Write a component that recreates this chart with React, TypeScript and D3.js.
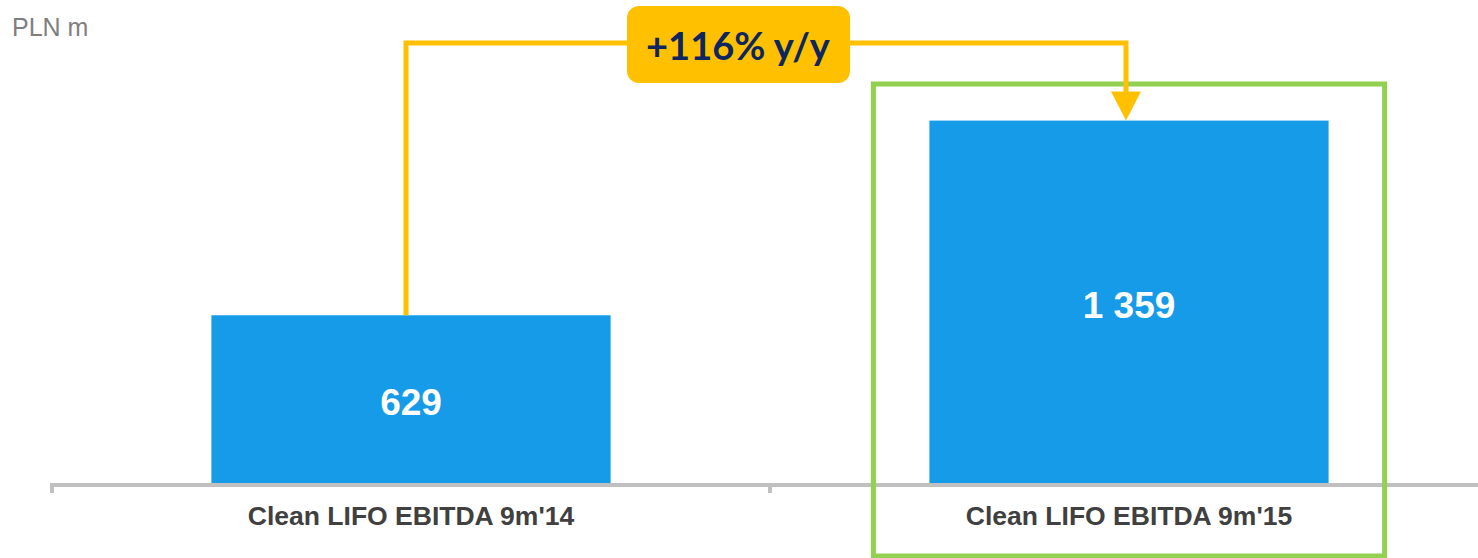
import { useEffect, useRef } from 'react';
import * as d3 from 'd3';

const categories = ["Clean LIFO EBITDA 9m'14", "Clean LIFO EBITDA 9m'15"];
const values = [629, 1359];
const valueLabels = ['629', '1 359'];
const unitLabel = 'PLN m';
const changeLabel = '+116% y/y';

export default function App() {
  const svgRef = useRef<SVGSVGElement>(null);

  useEffect(() => {
    if (!svgRef.current) return;
    const svg = d3.select(svgRef.current);
    svg.selectAll('*').remove();

    const width = 1478;
    const baseline = 483;

    // band runs past the right edge, like the original slide
    const xScale = d3.scaleBand<string>()
      .domain(categories)
      .range([52, 1488])
      .paddingInner(0.444)
      .paddingOuter(0.222);

    const yScale = d3.scaleLinear()
      .domain([0, 1500])
      .range([baseline, 83]);

    // unit label
    svg.append('text')
      .attr('x', 12)
      .attr('y', 36)
      .attr('font-family', 'Liberation Sans, Arial, sans-serif')
      .attr('font-size', 25)
      .attr('fill', '#7f7f7f')
      .text(unitLabel);

    // bars
    svg.selectAll('.bar')
      .data(values)
      .enter()
      .append('rect')
      .attr('class', 'bar')
      .attr('x', (_, i) => xScale(categories[i])!)
      .attr('y', d => yScale(d))
      .attr('width', xScale.bandwidth())
      .attr('height', d => baseline - yScale(d))
      .attr('fill', '#169be9');

    // value labels
    svg.selectAll('.val')
      .data(values)
      .enter()
      .append('text')
      .attr('class', 'val')
      .attr('x', (_, i) => xScale(categories[i])! + xScale.bandwidth() / 2)
      .attr('y', d => (yScale(d) + baseline) / 2 + 16)
      .attr('text-anchor', 'middle')
      .attr('font-family', 'Liberation Sans, Arial, sans-serif')
      .attr('font-weight', 'bold')
      .attr('font-size', 37)
      .attr('fill', '#ffffff')
      .text((_, i) => valueLabels[i]);

    // axis line + ticks
    const step = xScale.step();
    const x0 = 52;
    svg.append('line')
      .attr('x1', x0)
      .attr('x2', width)
      .attr('y1', baseline + 2)
      .attr('y2', baseline + 2)
      .attr('stroke', '#c0c0c0')
      .attr('stroke-width', 4);
    [0, 1, 2].forEach(i => {
      svg.append('line')
        .attr('x1', x0 + i * step)
        .attr('x2', x0 + i * step)
        .attr('y1', baseline)
        .attr('y2', baseline + 10)
        .attr('stroke', '#c0c0c0')
        .attr('stroke-width', 4);
    });

    // category labels
    svg.selectAll('.cat')
      .data(categories)
      .enter()
      .append('text')
      .attr('class', 'cat')
      .attr('x', d => xScale(d)! + xScale.bandwidth() / 2)
      .attr('y', 525)
      .attr('text-anchor', 'middle')
      .attr('font-family', 'Liberation Sans, Arial, sans-serif')
      .attr('font-weight', 'bold')
      .attr('font-size', 26.5)
      .attr('fill', '#404040')
      .text(d => d);

    // highlight box around current period
    const hx = xScale(categories[1])!;
    svg.append('rect')
      .attr('x', hx - 56)
      .attr('y', yScale(1500) + 1)
      .attr('width', xScale.bandwidth() + 112)
      .attr('height', 472)
      .attr('fill', 'none')
      .attr('stroke', '#92d050')
      .attr('stroke-width', 5);

    // connector arrow
    const ax1 = xScale(categories[0])! + xScale.bandwidth() / 2 - 5;
    const ax2 = xScale(categories[1])! + xScale.bandwidth() / 2 - 3;
    const topY = 43;
    const tipY = yScale(values[1]);
    svg.append('path')
      .attr('d', `M${ax1},${yScale(values[0])} V${topY} H${ax2} V${tipY - 26}`)
      .attr('fill', 'none')
      .attr('stroke', '#ffc000')
      .attr('stroke-width', 5);
    svg.append('path')
      .attr('d', `M${ax2 - 15},${tipY - 29} L${ax2 + 15},${tipY - 29} L${ax2},${tipY} Z`)
      .attr('fill', '#ffc000');

    // change badge
    svg.append('rect')
      .attr('x', 627)
      .attr('y', 6)
      .attr('width', 223)
      .attr('height', 77)
      .attr('rx', 12)
      .attr('fill', '#ffc000');
    svg.append('text')
      .attr('x', 738)
      .attr('y', 60)
      .attr('text-anchor', 'middle')
      .attr('font-family', 'Lato, Open Sans, sans-serif')
      .attr('font-weight', 'bold')
      .attr('font-size', 38)
      .attr('fill', '#0d2660')
      .text(changeLabel);
  }, []);

  return (
    <div style={{ position: 'absolute', left: 0, top: 0 }}>
      <svg ref={svgRef} width={1478} height={558} style={{ display: 'block' }} />
    </div>
  );
}
